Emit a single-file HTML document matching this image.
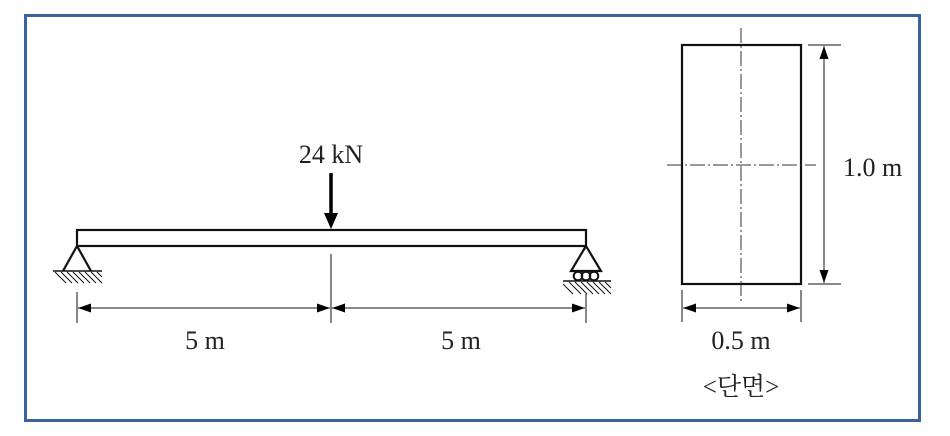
<!DOCTYPE html>
<html><head><meta charset="utf-8"><style>
html,body{margin:0;padding:0;background:#fff;}
svg{display:block;}
text{font-family:"Liberation Serif","Noto Serif CJK SC",serif;fill:#222;}
</style></head><body>
<svg width="950" height="436" viewBox="0 0 950 436" xmlns="http://www.w3.org/2000/svg">
<defs>
<marker id="ah" markerWidth="13" markerHeight="9" refX="13" refY="4.5" orient="auto-start-reverse" markerUnits="userSpaceOnUse">
<path d="M0,0 L13,4.5 L0,9 Z" fill="#000"/></marker>
</defs>
<rect x="25.5" y="15.5" width="894" height="405" fill="none" stroke="#3a64a0" stroke-width="3"/>
<!-- beam -->
<rect x="77" y="230" width="509" height="16" fill="none" stroke="#111" stroke-width="2.2"/>
<!-- load -->
<text x="331" y="163" font-size="26" text-anchor="middle">24 kN</text>
<line x1="331" y1="173" x2="331" y2="215" stroke="#000" stroke-width="3.5"/>
<path d="M324,213 L338,213 L331,229 Z" fill="#000"/>
<!-- left support -->
<path d="M77,246 L63,271 M77,246 L91,271" stroke="#111" stroke-width="2.2" fill="none"/>
<line x1="53" y1="271" x2="102" y2="271" stroke="#111" stroke-width="1.4"/>
<g stroke="#111" stroke-width="1">
<line x1="55" y1="272" x2="66" y2="283"/><line x1="61" y1="272" x2="72" y2="283"/><line x1="67" y1="272" x2="78" y2="283"/><line x1="73" y1="272" x2="84" y2="283"/><line x1="79" y1="272" x2="90" y2="283"/><line x1="85" y1="272" x2="96" y2="283"/><line x1="91" y1="272" x2="102" y2="283"/><line x1="97" y1="272" x2="102" y2="277"/>
</g>
<!-- right support -->
<path d="M586,246 L571,271 L601,271 Z" stroke="#111" stroke-width="2.2" fill="none"/>
<circle cx="578" cy="276" r="4.3" fill="none" stroke="#111" stroke-width="2"/>
<circle cx="586" cy="276" r="4.3" fill="none" stroke="#111" stroke-width="2"/>
<circle cx="594" cy="276" r="4.3" fill="none" stroke="#111" stroke-width="2"/>
<line x1="563" y1="281" x2="611" y2="281" stroke="#111" stroke-width="1.4"/>
<g stroke="#111" stroke-width="1">
<line x1="563" y1="284" x2="573" y2="294"/><line x1="569" y1="282" x2="581" y2="294"/><line x1="575" y1="282" x2="587" y2="294"/><line x1="581" y1="282" x2="593" y2="294"/><line x1="587" y1="282" x2="599" y2="294"/><line x1="593" y1="282" x2="605" y2="294"/><line x1="599" y1="282" x2="611" y2="294"/><line x1="605" y1="282" x2="611" y2="288"/>
</g>
<!-- dims beam -->
<g stroke="#111" stroke-width="1">
<line x1="77" y1="292" x2="77" y2="323"/>
<line x1="331" y1="254" x2="331" y2="323"/>
<line x1="586" y1="294" x2="586" y2="323"/>
<line x1="78" y1="308" x2="330" y2="308" marker-start="url(#ah)" marker-end="url(#ah)"/>
<line x1="332" y1="308" x2="585" y2="308" marker-start="url(#ah)" marker-end="url(#ah)"/>
</g>
<text x="205" y="349" font-size="26" text-anchor="middle">5 m</text>
<text x="461" y="349" font-size="26" text-anchor="middle">5 m</text>
<!-- section -->
<rect x="682" y="45" width="119" height="239" fill="none" stroke="#111" stroke-width="2.2"/>
<g stroke="#333" stroke-width="1" stroke-dasharray="15,3,2,3">
<line x1="741" y1="28" x2="741" y2="302"/>
<line x1="667" y1="165" x2="816" y2="165"/>
</g>
<g stroke="#111" stroke-width="1">
<line x1="808" y1="45" x2="841" y2="45"/>
<line x1="808" y1="284" x2="841" y2="284"/>
<line x1="824" y1="46" x2="824" y2="283" marker-start="url(#ah)" marker-end="url(#ah)"/>
<line x1="682" y1="290" x2="682" y2="322"/>
<line x1="801" y1="290" x2="801" y2="322"/>
<line x1="683" y1="308" x2="800" y2="308" marker-start="url(#ah)" marker-end="url(#ah)"/>
</g>
<text x="843" y="176" font-size="26">1.0 m</text>
<text x="741" y="349" font-size="26" text-anchor="middle">0.5 m</text>
<text x="741" y="395" font-size="25" text-anchor="middle">&lt;단면&gt;</text>
</svg>
</body></html>
